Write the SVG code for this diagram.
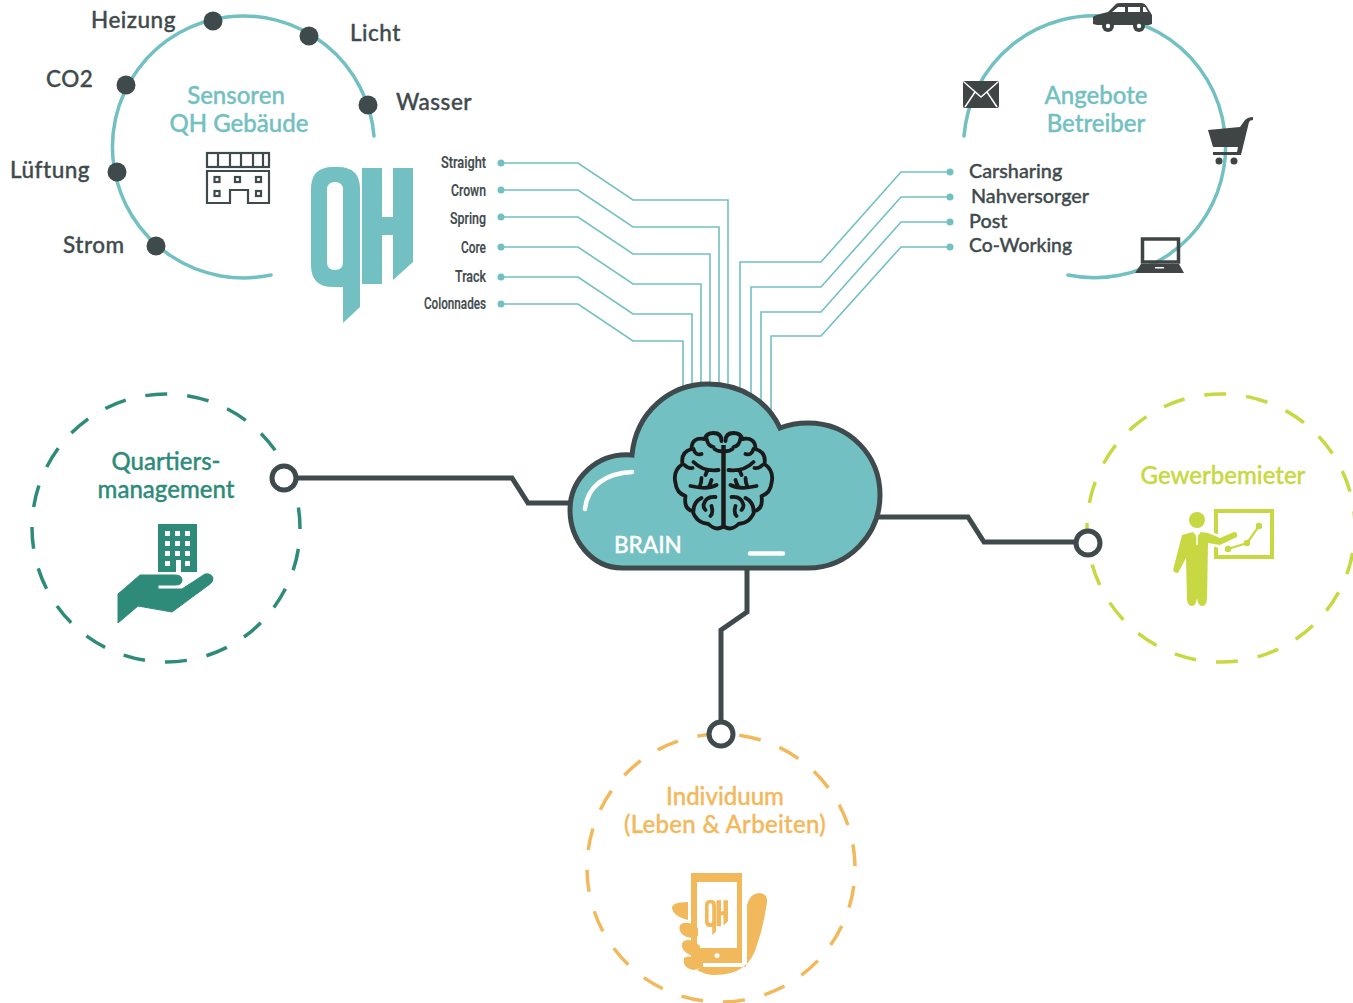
<svg xmlns="http://www.w3.org/2000/svg" xmlns:xlink="http://www.w3.org/1999/xlink" width="1353" height="1003" viewBox="0 0 1353 1003">
<style>
text{font-family:"Lato","Noto Sans",sans-serif;font-weight:500;stroke-width:.35}
.d{fill:#3f4a4d}
.lbl{font-size:22.5px;fill:#3f4a4d;stroke:#3f4a4d;letter-spacing:.5px}
.lst{font-size:19.8px;fill:#3f4a4d;stroke:#3f4a4d}
.tt{font-size:24px;fill:#72c0c2;stroke:#72c0c2;text-anchor:middle}
.cond{font-family:"Roboto","Liberation Sans",sans-serif;font-size:17px;fill:#3f4a4d;font-weight:500;stroke:#3f4a4d;stroke-width:.2}
.ring{fill:none;stroke:#72c0c2;stroke-width:3.5;stroke-linecap:round}
.dash{fill:none;stroke-width:3.5;stroke-dasharray:22 20.1}
.wire{fill:none;stroke:#72c0c2;stroke-width:1.6}
.cable{fill:none;stroke:#3f4a4d;stroke-width:5}
.port{fill:#fff;stroke:#3f4a4d;stroke-width:5}
.tdot{fill:#72c0c2}
</style>
<defs>
<path id="qh" fill-rule="evenodd" d="M311 189Q311 167 333 167H338Q360 167 360 189V307L343 323V287H333Q311 287 311 265ZM327 190V262Q327 270 335 270Q343 270 343 262V190Q343 182 335 182Q327 182 327 190ZM362 168H382V217H393V168H413V262L393 280V235H382V284H362Z"/>
<g id="brainhalf" fill="none" stroke="#1a1a1a" stroke-width="3.800" stroke-linecap="round" stroke-linejoin="round">
<path d="M2 441Q2 433 10 433Q17 433 19 439Q32 437 32 449Q43 452 41 464Q51 471 48 483Q47 493 38 496Q40 509 31 511Q27 523 15 524Q8 531 1 527"/>
<path d="M0 451Q5 452 9 449M17 438Q16 446 10 447M30 449Q28 456 22 454M5 470Q20 472 30 462M16 470L18 475M39 465Q35 469 31 468M7 485Q16 490 33 486M22 478Q22 483 24 487M12 480Q13 484 15 487M8 497Q18 496 20 505Q20 508 18 510M12 506Q10 513 13 516M22 498Q30 502 30 511"/>
</g>
</defs>
<g id="connectors">
<g class="wires">
<path class="wire" d="M501 163H578L633 200H728V390"/>
<path class="wire" d="M501 190H578L633 227H719V390"/>
<path class="wire" d="M501 217H578L633 254H710V390"/>
<path class="wire" d="M501 247H578L633 284H701V390"/>
<path class="wire" d="M501 277H578L633 314H692V390"/>
<path class="wire" d="M501 304H578L633 341H683V390"/>
<path class="wire" d="M950 172H901L821 262H740V395"/>
<path class="wire" d="M950 197H901L821 287H751V400"/>
<path class="wire" d="M950 222H901L821 312H761V405"/>
<path class="wire" d="M950 247H901L821 336H771V412"/>
</g>
<circle class="tdot" cx="501" cy="163" r="3.5"/><circle class="tdot" cx="501" cy="190" r="3.5"/><circle class="tdot" cx="501" cy="217" r="3.5"/><circle class="tdot" cx="501" cy="247" r="3.5"/><circle class="tdot" cx="501" cy="277" r="3.5"/><circle class="tdot" cx="501" cy="304" r="3.5"/>
<circle class="tdot" cx="950" cy="172" r="3.5"/><circle class="tdot" cx="950" cy="197" r="3.5"/><circle class="tdot" cx="950" cy="222" r="3.5"/><circle class="tdot" cx="950" cy="247" r="3.5"/>
<path class="cable" d="M296 478H512L528 503H572"/>
<path class="cable" d="M878 517H968L984 542H1076"/>
<path class="cable" d="M747 566V612L721 630V722"/>
</g>
<g id="sensoren">
<path class="ring" d="M271 275A131 131 0 1 1 374 136"/>
<g class="d"><circle cx="213" cy="21" r="9.5"/><circle cx="309" cy="36" r="9.5"/><circle cx="368" cy="105" r="9.5"/><circle cx="126" cy="85" r="9.5"/><circle cx="117" cy="172" r="9.5"/><circle cx="156" cy="246" r="9.5"/></g>
<text class="lbl" x="91" y="28">Heizung</text><text class="lbl" x="350" y="41">Licht</text><text class="lbl" x="396" y="110">Wasser</text><text class="lbl" x="46" y="87">CO2</text><text class="lbl" x="10" y="178">Lüftung</text><text class="lbl" x="63" y="253">Strom</text>
<text class="tt" x="236" y="104">Sensoren</text><text class="tt" x="239" y="132">QH Gebäude</text>
<g fill="none" stroke="#3f4a4d" stroke-width="2.200"><rect x="207" y="153" width="62" height="14"/><path d="M218 153V167M230 153V167M241 153V167M253 153V167M263 153V167"/><path d="M207 171H269V203H248V190H230V203H207Z"/><rect x="214.500" y="177" width="5" height="5"/><rect x="235" y="177" width="5" height="5"/><rect x="256" y="177" width="5" height="5"/><rect x="214.500" y="191" width="5" height="5"/><rect x="256" y="191" width="5" height="5"/></g>
</g>
<g id="logo-qh"><use xlink:href="#qh" href="#qh" fill="#72c0c2"/></g>
<g id="gebaeude-liste">
<text class="cond" x="441" y="168" textLength="45" lengthAdjust="spacingAndGlyphs">Straight</text>
<text class="cond" x="451" y="196" textLength="35" lengthAdjust="spacingAndGlyphs">Crown</text>
<text class="cond" x="450" y="224" textLength="36" lengthAdjust="spacingAndGlyphs">Spring</text>
<text class="cond" x="461" y="253" textLength="25" lengthAdjust="spacingAndGlyphs">Core</text>
<text class="cond" x="455" y="282" textLength="31" lengthAdjust="spacingAndGlyphs">Track</text>
<text class="cond" x="424" y="309" textLength="62" lengthAdjust="spacingAndGlyphs">Colonnades</text>
</g>
<g id="angebote">
<path class="ring" d="M964 136A131 131 0 1 1 1068 275"/>
<text class="tt" x="1096" y="104">Angebote</text><text class="tt" x="1096" y="132">Betreiber</text>
<text class="lst" x="969" y="178">Carsharing</text><text class="lst" x="971" y="203">Nahversorger</text><text class="lst" x="969" y="228">Post</text><text class="lst" x="969" y="252" textLength="103" lengthAdjust="spacingAndGlyphs">Co-Working</text>
<g id="icon-car" fill="#3f4445"><path fill-rule="evenodd" d="M1093 24V17Q1094 15 1108 12L1115 5Q1116 3 1120 3H1141Q1145 3 1147 7L1152 15V24L1149 25H1097ZM1118 7L1112 12H1125V7ZM1128 7V12H1140V7ZM1143 7V12H1148L1145 7Z"/><circle cx="1108" cy="26" r="6"/><circle cx="1139" cy="26" r="6"/><circle cx="1108" cy="26" r="2.200" fill="#fff"/><circle cx="1139" cy="26" r="2.200" fill="#fff"/></g>
<g id="icon-mail"><rect x="963" y="81" width="36" height="27" rx="2" fill="#3f4445"/><path d="M964 82L981 97L998 82M965 107L975 92M997 107L987 92" fill="none" stroke="#fff" stroke-width="1.500"/></g>
<g id="icon-cart" fill="#3f4445"><path d="M1208 130L1240 127L1245 120Q1248 117 1253 117V120Q1250 120 1249 122L1241 155H1213V152H1237L1238 147H1213Z"/><circle cx="1219" cy="161" r="3.500"/><circle cx="1234" cy="161" r="3.500"/></g>
<g id="icon-laptop"><rect x="1142.500" y="239" width="36" height="23" fill="none" stroke="#3f4445" stroke-width="3.500"/><path d="M1141 264H1179L1184 273H1135Z" fill="#3f4445"/><rect x="1155" y="267" width="9" height="1.500" fill="#fff"/></g>
</g>
<g id="brain">
<path d="M632 455C636 412 670 384 708 384C742 384 768 402 780 428C790 424 800 423 808 423C850 423 880 456 880 495C880 535 848 568 808 568H622C592 568 570 540 570 510C570 478 598 452 632 455Z" fill="#72c0c2" stroke="#3f4a4d" stroke-width="5"/>
<path d="M585 509C587 487 605 473 632 472" fill="none" stroke="#fff" stroke-width="4.500" stroke-linecap="round"/>
<path d="M750 553.500H783" fill="none" stroke="#fff" stroke-width="4.500" stroke-linecap="round"/>
<text x="614" y="553" font-size="22.5" fill="#fff" stroke="#fff">BRAIN</text>
<g id="brain-icon"><path d="M723.500 445V527" stroke="#1a1a1a" stroke-width="4.500"/><use xlink:href="#brainhalf" href="#brainhalf" transform="translate(723.500 0)"/><use xlink:href="#brainhalf" href="#brainhalf" transform="translate(723.500 0) scale(-1 1)"/></g>
</g>
<g id="quartiersmanagement">
<circle class="dash" cx="166" cy="528" r="134" stroke="#2e8b7a" stroke-dashoffset="-21"/>
<circle class="port" cx="284" cy="478" r="12"/>
<text class="tt" x="166" y="470" style="fill:#2e8b7a;stroke:#2e8b7a">Quartiers-</text><text class="tt" x="166" y="498" style="fill:#2e8b7a;stroke:#2e8b7a">management</text>
<path d="M158 524H197V572H181V560H176V572H158Z" fill="#2e8b7a"/>
<path fill="#fff" d="M165 531h5v5h-5zM175 531h5v5h-5zM185 531h5v5h-5zM165 541h5v5h-5zM175 541h5v5h-5zM185 541h5v5h-5zM165 551h5v5h-5zM175 551h5v5h-5zM185 551h5v5h-5zM165 561h5v5h-5zM185 561h5v5h-5z"/>
<path fill="#2e8b7a" stroke="#2e8b7a" stroke-linejoin="round" d="M118 594L140 575H175Q182 575 182 580Q182 585 176 585H158V589H182L205 574Q211 573 213 578Q213 582 210 584L172 612L138 606L118 623Z"/>
</g>
<g id="gewerbemieter">
<circle class="dash" cx="1221" cy="528" r="134" stroke="#c8d842" stroke-dashoffset="-25"/>
<circle class="port" cx="1088" cy="543" r="12"/>
<text class="tt" x="1223" y="484" style="fill:#c8d842;stroke:#c8d842">Gewerbemieter</text>
<rect x="1216" y="511" width="56" height="46" fill="none" stroke="#c8d842" stroke-width="4"/>
<path d="M1205 537L1218 541L1235 535" fill="none" stroke="#fff" stroke-width="13"/>
<circle cx="1197" cy="520" r="8" fill="#c8d842"/>
<path fill="#c8d842" d="M1182 535L1193 532L1197 537L1201 532L1208 533L1220 538L1234 532Q1238 532 1237 537L1220 545L1208 543L1207 600Q1206 606 1202 606Q1198 606 1197 598Q1196 606 1192 606Q1188 606 1187 600L1186 558L1178 573Q1174 573 1173 570Z"/>
<path d="M1197 536V545" stroke="#fff" stroke-width="1.500"/>
<path d="M1228 549L1247 543L1259 526" fill="none" stroke="#c8d842" stroke-width="2.200"/>
<g fill="#c8d842"><circle cx="1228" cy="549" r="3.200"/><circle cx="1247" cy="543" r="3.200"/><circle cx="1259" cy="526" r="3.200"/></g>
</g>
<g id="individuum">
<circle class="dash" cx="721" cy="868" r="134" stroke="#f2b95c" stroke-dashoffset="-18"/>
<circle class="port" cx="721" cy="734" r="12"/>
<text class="tt" x="725" y="805" style="fill:#f2b95c;stroke:#f2b95c">Individuum</text><text class="tt" x="725" y="833" style="fill:#f2b95c;stroke:#f2b95c;letter-spacing:.3px">(Leben &amp; Arbeiten)</text>
<path fill="#f2b95c" fill-rule="evenodd" d="M691 873H742V963H691ZM697 882V948H737V882Z"/>
<circle cx="717" cy="955.500" r="2.500" fill="#fff"/>
<use xlink:href="#qh" href="#qh" fill="#f2b95c" transform="translate(705 900) scale(.225) translate(-311 -167)"/>
<path fill="#f2b95c" d="M747 964V905Q750 893 760 893Q768 894 767 902Q764 925 757 945Q749 975 715 975Q705 975 697 970L701 967H745Z"/>
<path fill="#f2b95c" d="M688 902Q672 902 672 908Q673 916 688 920ZM680 925Q684 921 692 924L698 928V936Q690 940 683 935Q678 930 680 925ZM682 943Q685 938 694 941L700 946V953L692 956Q680 951 682 943ZM684 958Q688 955 696 958L703 963V967L694 970Q682 968 684 958Z"/>
</g>
</svg>
